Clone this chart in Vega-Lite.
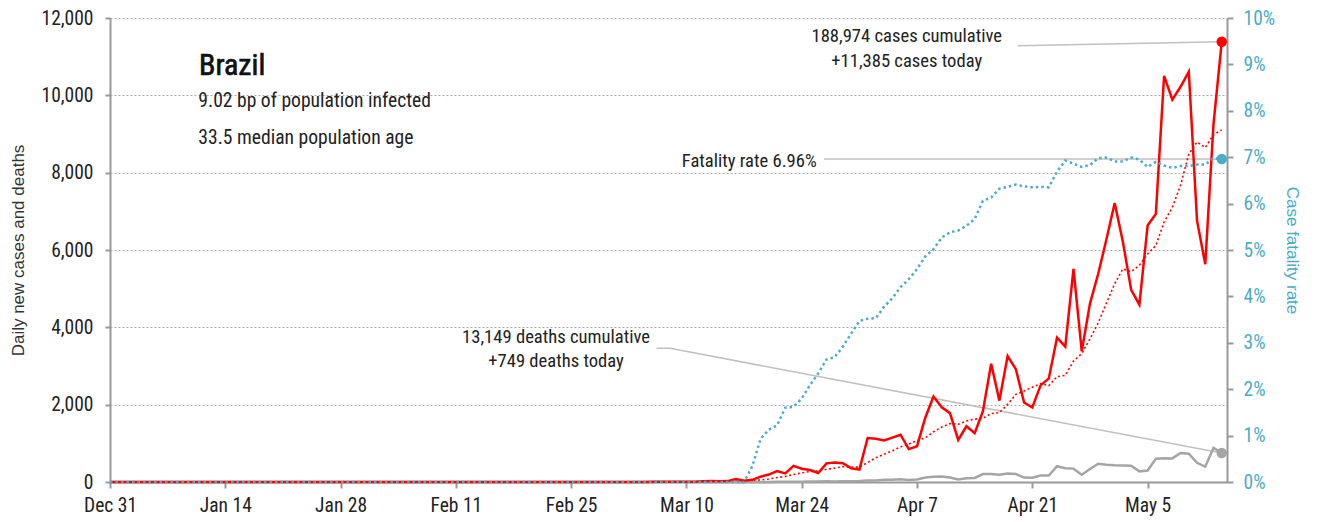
{
  "$schema": "https://vega.github.io/schema/vega-lite/v6.json",
  "width": 1117,
  "height": 464,
  "autosize": {"type": "none"},
  "padding": {"left": 110, "top": 18, "right": 94, "bottom": 40},
  "background": "white",
  "config": {
    "font": "Liberation Sans Narrow, Roboto Condensed, DejaVu Sans Condensed, sans-serif",
    "view": {"stroke": null},
    "axis": {
      "labelFont": "Liberation Sans Narrow, Roboto Condensed, DejaVu Sans Condensed, sans-serif",
      "labelFontSize": 19.5,
      "labelColor": "#222222",
      "titleFont": "Liberation Sans, Arial, sans-serif",
      "titleFontWeight": "normal",
      "titleFontSize": 17,
      "titleColor": "#333333",
      "domainColor": "#999999",
      "domainWidth": 2,
      "tickColor": "#999999",
      "tickWidth": 2
    }
  },
  "datasets": {
    "covid": [
      {"date":"2019-12-31","cases":0,"deaths":0,"ma7":0,"cfr":0},
      {"date":"2020-01-01","cases":0,"deaths":0,"ma7":0,"cfr":0},
      {"date":"2020-01-02","cases":0,"deaths":0,"ma7":0,"cfr":0},
      {"date":"2020-01-03","cases":0,"deaths":0,"ma7":0,"cfr":0},
      {"date":"2020-01-04","cases":0,"deaths":0,"ma7":0,"cfr":0},
      {"date":"2020-01-05","cases":0,"deaths":0,"ma7":0,"cfr":0},
      {"date":"2020-01-06","cases":0,"deaths":0,"ma7":0,"cfr":0},
      {"date":"2020-01-07","cases":0,"deaths":0,"ma7":0,"cfr":0},
      {"date":"2020-01-08","cases":0,"deaths":0,"ma7":0,"cfr":0},
      {"date":"2020-01-09","cases":0,"deaths":0,"ma7":0,"cfr":0},
      {"date":"2020-01-10","cases":0,"deaths":0,"ma7":0,"cfr":0},
      {"date":"2020-01-11","cases":0,"deaths":0,"ma7":0,"cfr":0},
      {"date":"2020-01-12","cases":0,"deaths":0,"ma7":0,"cfr":0},
      {"date":"2020-01-13","cases":0,"deaths":0,"ma7":0,"cfr":0},
      {"date":"2020-01-14","cases":0,"deaths":0,"ma7":0,"cfr":0},
      {"date":"2020-01-15","cases":0,"deaths":0,"ma7":0,"cfr":0},
      {"date":"2020-01-16","cases":0,"deaths":0,"ma7":0,"cfr":0},
      {"date":"2020-01-17","cases":0,"deaths":0,"ma7":0,"cfr":0},
      {"date":"2020-01-18","cases":0,"deaths":0,"ma7":0,"cfr":0},
      {"date":"2020-01-19","cases":0,"deaths":0,"ma7":0,"cfr":0},
      {"date":"2020-01-20","cases":0,"deaths":0,"ma7":0,"cfr":0},
      {"date":"2020-01-21","cases":0,"deaths":0,"ma7":0,"cfr":0},
      {"date":"2020-01-22","cases":0,"deaths":0,"ma7":0,"cfr":0},
      {"date":"2020-01-23","cases":0,"deaths":0,"ma7":0,"cfr":0},
      {"date":"2020-01-24","cases":0,"deaths":0,"ma7":0,"cfr":0},
      {"date":"2020-01-25","cases":0,"deaths":0,"ma7":0,"cfr":0},
      {"date":"2020-01-26","cases":0,"deaths":0,"ma7":0,"cfr":0},
      {"date":"2020-01-27","cases":0,"deaths":0,"ma7":0,"cfr":0},
      {"date":"2020-01-28","cases":0,"deaths":0,"ma7":0,"cfr":0},
      {"date":"2020-01-29","cases":0,"deaths":0,"ma7":0,"cfr":0},
      {"date":"2020-01-30","cases":0,"deaths":0,"ma7":0,"cfr":0},
      {"date":"2020-01-31","cases":0,"deaths":0,"ma7":0,"cfr":0},
      {"date":"2020-02-01","cases":0,"deaths":0,"ma7":0,"cfr":0},
      {"date":"2020-02-02","cases":0,"deaths":0,"ma7":0,"cfr":0},
      {"date":"2020-02-03","cases":0,"deaths":0,"ma7":0,"cfr":0},
      {"date":"2020-02-04","cases":0,"deaths":0,"ma7":0,"cfr":0},
      {"date":"2020-02-05","cases":0,"deaths":0,"ma7":0,"cfr":0},
      {"date":"2020-02-06","cases":0,"deaths":0,"ma7":0,"cfr":0},
      {"date":"2020-02-07","cases":0,"deaths":0,"ma7":0,"cfr":0},
      {"date":"2020-02-08","cases":0,"deaths":0,"ma7":0,"cfr":0},
      {"date":"2020-02-09","cases":0,"deaths":0,"ma7":0,"cfr":0},
      {"date":"2020-02-10","cases":0,"deaths":0,"ma7":0,"cfr":0},
      {"date":"2020-02-11","cases":0,"deaths":0,"ma7":0,"cfr":0},
      {"date":"2020-02-12","cases":0,"deaths":0,"ma7":0,"cfr":0},
      {"date":"2020-02-13","cases":0,"deaths":0,"ma7":0,"cfr":0},
      {"date":"2020-02-14","cases":0,"deaths":0,"ma7":0,"cfr":0},
      {"date":"2020-02-15","cases":0,"deaths":0,"ma7":0,"cfr":0},
      {"date":"2020-02-16","cases":0,"deaths":0,"ma7":0,"cfr":0},
      {"date":"2020-02-17","cases":0,"deaths":0,"ma7":0,"cfr":0},
      {"date":"2020-02-18","cases":0,"deaths":0,"ma7":0,"cfr":0},
      {"date":"2020-02-19","cases":0,"deaths":0,"ma7":0,"cfr":0},
      {"date":"2020-02-20","cases":0,"deaths":0,"ma7":0,"cfr":0},
      {"date":"2020-02-21","cases":0,"deaths":0,"ma7":0,"cfr":0},
      {"date":"2020-02-22","cases":0,"deaths":0,"ma7":0,"cfr":0},
      {"date":"2020-02-23","cases":0,"deaths":0,"ma7":0,"cfr":0},
      {"date":"2020-02-24","cases":0,"deaths":0,"ma7":0,"cfr":0},
      {"date":"2020-02-25","cases":0,"deaths":0,"ma7":0,"cfr":0},
      {"date":"2020-02-26","cases":0,"deaths":0,"ma7":0,"cfr":0},
      {"date":"2020-02-27","cases":1,"deaths":0,"ma7":0.1,"cfr":0},
      {"date":"2020-02-28","cases":0,"deaths":0,"ma7":0.1,"cfr":0},
      {"date":"2020-02-29","cases":0,"deaths":0,"ma7":0.1,"cfr":0},
      {"date":"2020-03-01","cases":1,"deaths":0,"ma7":0.3,"cfr":0},
      {"date":"2020-03-02","cases":0,"deaths":0,"ma7":0.3,"cfr":0},
      {"date":"2020-03-03","cases":0,"deaths":0,"ma7":0.3,"cfr":0},
      {"date":"2020-03-04","cases":0,"deaths":0,"ma7":0.3,"cfr":0},
      {"date":"2020-03-05","cases":2,"deaths":0,"ma7":0.4,"cfr":0},
      {"date":"2020-03-06","cases":4,"deaths":0,"ma7":1.0,"cfr":0},
      {"date":"2020-03-07","cases":5,"deaths":0,"ma7":1.7,"cfr":0},
      {"date":"2020-03-08","cases":6,"deaths":0,"ma7":2.4,"cfr":0},
      {"date":"2020-03-09","cases":6,"deaths":0,"ma7":3.3,"cfr":0},
      {"date":"2020-03-10","cases":5,"deaths":0,"ma7":4.0,"cfr":0},
      {"date":"2020-03-11","cases":4,"deaths":0,"ma7":4.6,"cfr":0},
      {"date":"2020-03-12","cases":18,"deaths":0,"ma7":6.9,"cfr":0},
      {"date":"2020-03-13","cases":25,"deaths":0,"ma7":9.9,"cfr":0},
      {"date":"2020-03-14","cases":21,"deaths":0,"ma7":12.1,"cfr":0},
      {"date":"2020-03-15","cases":23,"deaths":0,"ma7":14.6,"cfr":0},
      {"date":"2020-03-16","cases":79,"deaths":0,"ma7":25.0,"cfr":0},
      {"date":"2020-03-17","cases":34,"deaths":0,"ma7":29.1,"cfr":0},
      {"date":"2020-03-18","cases":57,"deaths":1,"ma7":36.7,"cfr":0.0034},
      {"date":"2020-03-19","cases":137,"deaths":3,"ma7":53.7,"cfr":0.0093},
      {"date":"2020-03-20","cases":193,"deaths":3,"ma7":77.7,"cfr":0.0113},
      {"date":"2020-03-21","cases":283,"deaths":4,"ma7":115.1,"cfr":0.0122},
      {"date":"2020-03-22","cases":224,"deaths":7,"ma7":143.9,"cfr":0.0160},
      {"date":"2020-03-23","cases":418,"deaths":7,"ma7":192.3,"cfr":0.0162},
      {"date":"2020-03-24","cases":345,"deaths":9,"ma7":236.7,"cfr":0.0180},
      {"date":"2020-03-25","cases":310,"deaths":12,"ma7":272.9,"cfr":0.0209},
      {"date":"2020-03-26","cases":232,"deaths":11,"ma7":286.4,"cfr":0.0234},
      {"date":"2020-03-27","cases":482,"deaths":20,"ma7":327.7,"cfr":0.0264},
      {"date":"2020-03-28","cases":502,"deaths":15,"ma7":359.0,"cfr":0.0269},
      {"date":"2020-03-29","cases":487,"deaths":22,"ma7":396.6,"cfr":0.0292},
      {"date":"2020-03-30","cases":352,"deaths":22,"ma7":387.1,"cfr":0.0320},
      {"date":"2020-03-31","cases":323,"deaths":23,"ma7":384.0,"cfr":0.0347},
      {"date":"2020-04-01","cases":1138,"deaths":42,"ma7":502.3,"cfr":0.0352},
      {"date":"2020-04-02","cases":1119,"deaths":40,"ma7":629.0,"cfr":0.0353},
      {"date":"2020-04-03","cases":1074,"deaths":58,"ma7":713.6,"cfr":0.0378},
      {"date":"2020-04-04","cases":1146,"deaths":60,"ma7":805.6,"cfr":0.0396},
      {"date":"2020-04-05","cases":1222,"deaths":73,"ma7":910.6,"cfr":0.0420},
      {"date":"2020-04-06","cases":852,"deaths":54,"ma7":982.0,"cfr":0.0437},
      {"date":"2020-04-07","cases":926,"deaths":67,"ma7":1068.1,"cfr":0.0459},
      {"date":"2020-04-08","cases":1661,"deaths":114,"ma7":1142.9,"cfr":0.0486},
      {"date":"2020-04-09","cases":2210,"deaths":133,"ma7":1298.7,"cfr":0.0502},
      {"date":"2020-04-10","cases":1930,"deaths":141,"ma7":1421.0,"cfr":0.0527},
      {"date":"2020-04-11","cases":1781,"deaths":115,"ma7":1511.7,"cfr":0.0538},
      {"date":"2020-04-12","cases":1089,"deaths":68,"ma7":1492.7,"cfr":0.0542},
      {"date":"2020-04-13","cases":1442,"deaths":99,"ma7":1577.0,"cfr":0.0552},
      {"date":"2020-04-14","cases":1261,"deaths":105,"ma7":1624.9,"cfr":0.0567},
      {"date":"2020-04-15","cases":1832,"deaths":204,"ma7":1649.3,"cfr":0.0606},
      {"date":"2020-04-16","cases":3058,"deaths":204,"ma7":1770.4,"cfr":0.0613},
      {"date":"2020-04-17","cases":2105,"deaths":188,"ma7":1795.4,"cfr":0.0632},
      {"date":"2020-04-18","cases":3257,"deaths":217,"ma7":2006.3,"cfr":0.0636},
      {"date":"2020-04-19","cases":2917,"deaths":206,"ma7":2267.4,"cfr":0.0641},
      {"date":"2020-04-20","cases":2055,"deaths":115,"ma7":2355.0,"cfr":0.0637},
      {"date":"2020-04-21","cases":1927,"deaths":113,"ma7":2450.1,"cfr":0.0635},
      {"date":"2020-04-22","cases":2498,"deaths":166,"ma7":2545.3,"cfr":0.0636},
      {"date":"2020-04-23","cases":2678,"deaths":165,"ma7":2491.0,"cfr":0.0635},
      {"date":"2020-04-24","cases":3735,"deaths":407,"ma7":2723.9,"cfr":0.0669},
      {"date":"2020-04-25","cases":3503,"deaths":357,"ma7":2759.0,"cfr":0.0693},
      {"date":"2020-04-26","cases":5514,"deaths":346,"ma7":3130.0,"cfr":0.0686},
      {"date":"2020-04-27","cases":3379,"deaths":189,"ma7":3319.1,"cfr":0.0679},
      {"date":"2020-04-28","cases":4613,"deaths":338,"ma7":3702.9,"cfr":0.0683},
      {"date":"2020-04-29","cases":5385,"deaths":474,"ma7":4115.3,"cfr":0.0698},
      {"date":"2020-04-30","cases":6276,"deaths":449,"ma7":4629.3,"cfr":0.0699},
      {"date":"2020-05-01","cases":7218,"deaths":435,"ma7":5126.9,"cfr":0.0691},
      {"date":"2020-05-02","cases":6209,"deaths":428,"ma7":5513.4,"cfr":0.0691},
      {"date":"2020-05-03","cases":4970,"deaths":421,"ma7":5435.7,"cfr":0.0699},
      {"date":"2020-05-04","cases":4588,"deaths":275,"ma7":5608.4,"cfr":0.0695},
      {"date":"2020-05-05","cases":6633,"deaths":296,"ma7":5897.0,"cfr":0.0679},
      {"date":"2020-05-06","cases":6935,"deaths":600,"ma7":6118.4,"cfr":0.0690},
      {"date":"2020-05-07","cases":10503,"deaths":615,"ma7":6722.3,"cfr":0.0682},
      {"date":"2020-05-08","cases":9888,"deaths":610,"ma7":7103.7,"cfr":0.0677},
      {"date":"2020-05-09","cases":10222,"deaths":751,"ma7":7677.0,"cfr":0.0681},
      {"date":"2020-05-10","cases":10611,"deaths":730,"ma7":8482.9,"cfr":0.0681},
      {"date":"2020-05-11","cases":6760,"deaths":496,"ma7":8793.1,"cfr":0.0684},
      {"date":"2020-05-12","cases":5632,"deaths":396,"ma7":8650.1,"cfr":0.0684},
      {"date":"2020-05-13","cases":9258,"deaths":881,"ma7":8982.0,"cfr":0.0698},
      {"date":"2020-05-14","cases":11385,"deaths":749,"ma7":9108.0,"cfr":0.0696}
    ]
  },
  "encoding": {
    "x": {
      "field": "date",
      "type": "temporal",
      "scale": {
        "type": "utc",
        "domain": [
          {"year": 2019, "month": 12, "date": 31, "utc": true},
          {"year": 2020, "month": 5, "date": 14, "hours": 15, "minutes": 20, "utc": true}
        ]
      },
      "axis": {
        "title": null,
        "grid": false,
        "labelFlush": false,
        "labelExpr": "utcFormat(datum.value, '%b %-d')",
        "values": [
          {"year": 2019, "month": 12, "date": 31, "utc": true},
          {"year": 2020, "month": 1, "date": 14, "utc": true},
          {"year": 2020, "month": 1, "date": 28, "utc": true},
          {"year": 2020, "month": 2, "date": 11, "utc": true},
          {"year": 2020, "month": 2, "date": 25, "utc": true},
          {"year": 2020, "month": 3, "date": 10, "utc": true},
          {"year": 2020, "month": 3, "date": 24, "utc": true},
          {"year": 2020, "month": 4, "date": 7, "utc": true},
          {"year": 2020, "month": 4, "date": 21, "utc": true},
          {"year": 2020, "month": 5, "date": 5, "utc": true}
        ],
        "tickSize": 6,
        "labelPadding": 8
      }
    }
  },
  "layer": [
    {
      "layer": [
        {
          "data": {"values": [
            {"grp": "cases", "date": "2020-04-19T06:00:00Z", "value": 11284},
            {"grp": "cases", "date": "2020-05-14", "value": 11385},
            {"grp": "cfr", "date": "2020-03-26T17:00:00Z", "value": 8352},
            {"grp": "cfr", "date": "2020-05-14", "value": 8352},
            {"grp": "deaths", "date": "2020-03-06T09:00:00Z", "value": 3458},
            {"grp": "deaths", "date": "2020-03-08", "value": 3458},
            {"grp": "deaths", "date": "2020-05-14", "value": 749}
          ]},
          "mark": {"type": "line", "stroke": "#c0c0c0", "strokeWidth": 1.6},
          "encoding": {
            "y": {
              "field": "value", "type": "quantitative", "title": "Daily new cases and deaths",
              "scale": {"domain": [0, 12000], "nice": false},
              "axis": {
                "values": [0, 2000, 4000, 6000, 8000, 10000, 12000],
                "format": ",d",
                "grid": true,
                "gridDash": [2, 2],
                "gridColor": "#aaaaaa",
                "gridWidth": 1,
                "tickSize": 5,
                "labelPadding": 12,
                "titlePadding": 14
              }
            },
            "detail": {"field": "grp"}
          }
        },
        {
          "data": {"name": "covid"},
          "mark": {"type": "line", "stroke": "#ff0000", "strokeWidth": 1.6, "strokeDash": [2, 2.5]},
          "encoding": {
            "y": {"field": "ma7", "type": "quantitative", "title": "Daily new cases and deaths", "scale": {"domain": [0, 12000], "nice": false}}
          }
        },
        {
          "data": {"name": "covid"},
          "mark": {"type": "line", "stroke": "#a5a5a5", "strokeWidth": 2.5},
          "encoding": {
            "y": {"field": "deaths", "type": "quantitative", "title": "Daily new cases and deaths", "scale": {"domain": [0, 12000], "nice": false}}
          }
        },
        {
          "data": {"name": "covid"},
          "mark": {"type": "line", "stroke": "#ff0000", "strokeWidth": 2.5},
          "encoding": {
            "y": {"field": "cases", "type": "quantitative", "title": "Daily new cases and deaths", "scale": {"domain": [0, 12000], "nice": false}}
          }
        },
        {
          "data": {"name": "covid"},
          "transform": [{"filter": "datum.cases == 11385"}],
          "mark": {"type": "point", "filled": true, "color": "#ff0000", "size": 110, "opacity": 1},
          "encoding": {
            "y": {"field": "cases", "type": "quantitative", "title": "Daily new cases and deaths", "scale": {"domain": [0, 12000], "nice": false}}
          }
        },
        {
          "data": {"name": "covid"},
          "transform": [{"filter": "datum.cases == 11385"}],
          "mark": {"type": "point", "filled": true, "color": "#a5a5a5", "size": 110, "opacity": 1},
          "encoding": {
            "y": {"field": "deaths", "type": "quantitative", "title": "Daily new cases and deaths", "scale": {"domain": [0, 12000], "nice": false}}
          }
        },
        {
          "data": {"values": [
            {"date": "2020-04-05T18:00:00Z", "value": 11371, "label": "188,974 cases cumulative"},
            {"date": "2020-04-05T18:00:00Z", "value": 10740, "label": "+11,385 cases today"},
            {"date": "2020-02-23T04:00:00Z", "value": 3587, "label": "13,149 deaths cumulative"},
            {"date": "2020-02-23T04:00:00Z", "value": 2982, "label": "+749 deaths today"}
          ]},
          "mark": {"type": "text", "align": "center", "baseline": "alphabetic", "fontSize": 18.6, "color": "#222222"},
          "encoding": {
            "y": {"field": "value", "type": "quantitative", "title": "Daily new cases and deaths", "scale": {"domain": [0, 12000], "nice": false}},
            "text": {"field": "label"}
          }
        },
        {
          "data": {"values": [
            {"date": "2020-03-25T19:30:00Z", "value": 8154, "label": "Fatality rate 6.96%"}
          ]},
          "mark": {"type": "text", "align": "right", "baseline": "alphabetic", "fontSize": 18.6, "color": "#222222"},
          "encoding": {
            "y": {"field": "value", "type": "quantitative", "title": "Daily new cases and deaths", "scale": {"domain": [0, 12000], "nice": false}},
            "text": {"field": "label"}
          }
        },
        {
          "data": {"values": [
            {"date": "2020-01-10T19:30:00Z", "value": 10526, "label": "Brazil"}
          ]},
          "mark": {"type": "text", "align": "left", "baseline": "alphabetic", "fontSize": 30, "fontWeight": "normal", "color": "#111111", "stroke": "#111111", "strokeWidth": 0.7},
          "encoding": {
            "y": {"field": "value", "type": "quantitative", "title": "Daily new cases and deaths", "scale": {"domain": [0, 12000], "nice": false}},
            "text": {"field": "label"}
          }
        },
        {
          "data": {"values": [
            {"date": "2020-01-10T17:30:00Z", "value": 9690, "label": "9.02 bp of population infected"},
            {"date": "2020-01-10T17:30:00Z", "value": 8734, "label": "33.5 median population age"}
          ]},
          "mark": {"type": "text", "align": "left", "baseline": "alphabetic", "fontSize": 19.6, "color": "#222222"},
          "encoding": {
            "y": {"field": "value", "type": "quantitative", "title": "Daily new cases and deaths", "scale": {"domain": [0, 12000], "nice": false}},
            "text": {"field": "label"}
          }
        }
      ]
    },
    {
      "layer": [
        {
          "data": {"name": "covid"},
          "mark": {"type": "line", "stroke": "#4bacc6", "strokeWidth": 2.5, "strokeDash": [2.5, 3]},
          "encoding": {
            "y": {
              "field": "cfr", "type": "quantitative", "title": "Case fatality rate",
              "scale": {"domain": [0, 0.1], "nice": false},
              "axis": {
                "orient": "right",
                "format": ".0%",
                "values": [0, 0.01, 0.02, 0.03, 0.04, 0.05, 0.06, 0.07, 0.08, 0.09, 0.1],
                "grid": false,
                "labelColor": "#4bacc6",
                "titleColor": "#4bacc6",
                "tickSize": 6,
                "labelPadding": 10,
                "titlePadding": 8
              }
            }
          }
        },
        {
          "data": {"name": "covid"},
          "transform": [{"filter": "datum.cases == 11385"}],
          "mark": {"type": "point", "filled": true, "color": "#4bacc6", "size": 110, "opacity": 1},
          "encoding": {
            "y": {"field": "cfr", "type": "quantitative", "title": "Case fatality rate", "scale": {"domain": [0, 0.1], "nice": false}}
          }
        }
      ]
    }
  ],
  "resolve": {"scale": {"y": "independent"}}
}
